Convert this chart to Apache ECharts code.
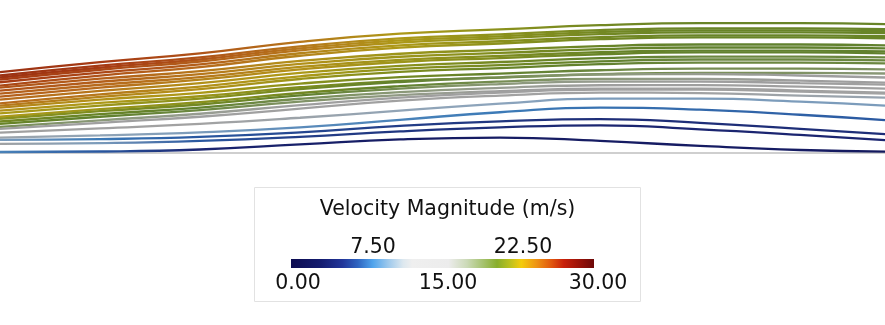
<!DOCTYPE html>
<html>
<head>
<meta charset="utf-8">
<script src="https://cdn.jsdelivr.net/npm/echarts@6/dist/echarts.min.js"></script>
<style>html,body{margin:0;padding:0;background:#fff}#c{width:885px;height:325px}</style>
</head>
<body>
<div id="c"></div>
<script>
// Streamline sample positions along the channel (x)
const xs = [0, 100, 200, 300, 400, 500, 600, 700, 800, 885];
// Height of each streamline above the wall at each x
const line01 = [80.3, 90.3, 98.9, 110.4, 118.5, 122.8, 127.0, 129.0, 129.0, 128.0];
const line02 = [77, 86.7, 94.9, 106, 113.8, 117.9, 122.1, 123.9, 123.9, 123];
const line03 = [75, 84.7, 92.9, 104, 111.8, 115.9, 120.1, 121.9, 121.9, 121];
const line04 = [73, 82.7, 90.9, 102, 109.8, 113.9, 118.1, 119.9, 119.9, 119];
const line05 = [70.3, 79.9, 88.1, 99.1, 106.9, 111, 115.1, 116.9, 116.9, 116];
const line06 = [67, 76.9, 85.3, 96.6, 104.6, 108.8, 113.1, 114.9, 114.9, 114];
const line07 = [65, 73.8, 81.4, 91.5, 98.6, 102.4, 106.2, 107.8, 107.8, 107];
const line08 = [62, 70.8, 78.4, 88.5, 95.6, 99.4, 103.2, 104.8, 104.8, 104];
const line09 = [59, 67.8, 75.4, 85.5, 92.6, 96.4, 100.2, 101.8, 101.8, 101];
const line10 = [56, 65, 72.8, 83.1, 90.4, 94.3, 98.1, 99.9, 99.9, 99];
const line11 = [53, 61.8, 69.4, 79.5, 86.6, 90.4, 94.2, 95.8, 95.8, 95];
const line12 = [49.3, 58.3, 66, 76.2, 83.5, 87.3, 91.1, 92.9, 92.9, 92];
const line13 = [47, 55.8, 63.4, 73.5, 80.6, 84.4, 88.2, 89.8, 89.8, 89];
const line14 = [45, 53, 59.8, 68.9, 75.4, 78.8, 82.2, 83.8, 83.8, 83];
const line15 = [42, 49.8, 56.4, 65.3, 71.6, 74.9, 78.3, 79.7, 79.7, 79];
const line16 = [39.3, 47.1, 54.1, 63.5, 70.5, 75.2, 78, 78.5, 77, 75];
const line17 = [36, 43.6, 50.4, 59.6, 66.4, 71, 73.5, 73.5, 72, 70];
const line18 = [34, 41.5, 48.2, 57.2, 64, 68.5, 71, 71, 69.5, 68];
const line19 = [31.3, 38.6, 45.1, 53.9, 60.5, 64.7, 67.3, 67.5, 66, 64];
const line20 = [29, 36, 42.5, 51, 57.5, 61.5, 64, 64, 62, 60];
const line21 = [26, 32.5, 39, 47.5, 55, 60, 63, 63, 61, 59];
const line22 = [24, 30, 36, 44, 52, 57, 60, 59.5, 57, 55];
const line23 = [20.3, 24.5, 29, 35, 42, 49, 54, 54, 51, 47];
const line24 = [15.3, 17.5, 20.5, 25.5, 33, 40.5, 45, 43, 38, 32.7];
const line25 = [13, 13.8, 16, 20.5, 27, 31.5, 33.7, 30, 24, 18.7];
const line26 = [9, 9.8, 12, 16, 21.5, 25.5, 27.5, 23.5, 18, 12.7];
const line27 = [1, 1.5, 3.5, 8.5, 13.5, 15.3, 12, 7, 3, 1.3];
const heights = [line01, line02, line03, line04, line05, line06, line07, line08, line09,
  line10, line11, line12, line13, line14, line15, line16, line17, line18, line19,
  line20, line21, line22, line23, line24, line25, line26, line27];

// Velocity magnitude (m/s) along each streamline at the same x positions
const speed01 = [27.5, 27, 26, 24.5, 23, 22, 21, 20.5, 20.5, 20.5];
const speed02 = [27.5, 27, 26, 24.5, 23, 22, 21, 20.5, 20.5, 20.5];
const speed03 = [27.5, 27, 26, 24.5, 23, 22, 21, 20.5, 20.5, 20.5];
const speed04 = [27, 26.5, 25.5, 24.5, 23, 22, 21, 20.5, 20.5, 20.5];
const speed05 = [27, 26.5, 25.5, 24, 23, 22, 21, 20.5, 20.5, 20.5];
const speed06 = [26.5, 26, 25, 24, 23, 22, 21, 20.5, 20.5, 20.5];
const speed07 = [26, 25.5, 24.5, 23.5, 22.5, 21.5, 20.5, 20, 20, 20];
const speed08 = [26, 25.5, 24.5, 23.5, 22.5, 21.5, 20.5, 20, 20, 20];
const speed09 = [25.5, 25, 24.5, 23.5, 22.5, 21.5, 20.5, 20, 20, 20];
const speed10 = [25.5, 25, 24, 23.5, 22.5, 21.5, 20.5, 20, 20, 20];
const speed11 = [25, 24.5, 23.5, 23, 22, 21, 20, 19.5, 19.5, 19.5];
const speed12 = [25, 24.5, 23.5, 23, 22, 21, 20, 19.5, 19.5, 19.5];
const speed13 = [24.5, 24, 23.5, 22.5, 21.5, 20.5, 20, 19.5, 19.5, 19.5];
const speed14 = [24, 23.5, 23, 22, 21, 20, 19.5, 19, 19, 18.5];
const speed15 = [23.5, 23, 22.5, 21.5, 20.5, 20, 19.5, 19, 18.5, 18];
const speed16 = [23, 22.5, 22, 21, 20, 19, 18, 17, 16.5, 16];
const speed17 = [23, 22.5, 22, 21, 20, 19, 18, 17, 16.5, 16];
const speed18 = [22, 21.5, 21, 20, 19, 18, 17, 16.5, 16, 15.5];
const speed19 = [21, 20.5, 20, 19, 18, 17, 16, 15.5, 15, 15];
const speed20 = [20.5, 20, 19.5, 18.5, 17.5, 16.5, 15.5, 15, 15, 14.5];
const speed21 = [19, 18, 17, 16, 15.5, 15, 14.5, 14, 13.5, 13];
const speed22 = [16, 15.5, 15, 14.5, 14, 13.5, 13, 12.5, 12, 11.5];
const speed23 = [14.5, 14, 13, 12, 11, 10.5, 10, 10, 10, 10];
const speed24 = [12, 11, 10, 9, 8.5, 8, 7.5, 7, 6.5, 6];
const speed25 = [10, 8, 6, 5, 4.5, 4, 3.5, 3.5, 3.5, 3.5];
const speed26 = [13, 10, 6, 4.5, 4, 3.5, 3, 3, 3, 3];
const speed27 = [8.5, 6, 3, 2.5, 2, 2, 2, 2, 2, 1.5];
const speeds = [speed01, speed02, speed03, speed04, speed05, speed06, speed07, speed08, speed09,
  speed10, speed11, speed12, speed13, speed14, speed15, speed16, speed17, speed18, speed19,
  speed20, speed21, speed22, speed23, speed24, speed25, speed26, speed27];

// Colour bar range and tick labels
const vMin = 0, vMax = 30;
const barTicksBottom = [0, 15, 30];
const barTicksTop = [7.5, 22.5];
const barTitle = 'Velocity Magnitude (m/s)';

// Colour map (legend bar) and its shaded version used for the streamline tubes
const mapStops = [
  [0.00, '#0c0c50'], [0.10, '#141c70'], [0.17, '#22369a'], [0.22, '#2e64c0'],
  [0.27, '#50a4ec'], [0.32, '#9cc8ec'], [0.37, '#dde8ef'], [0.40, '#efefef'],
  [0.52, '#ececec'], [0.58, '#ccdab8'], [0.63, '#a8c474'], [0.68, '#88ae2c'],
  [0.72, '#b8c020'], [0.76, '#f4cc0c'], [0.81, '#ee9414'], [0.86, '#e0560e'],
  [0.90, '#c8200a'], [0.95, '#9c1208'], [1.00, '#6c0808']
];
const tubeStops = [
  [0.00, '#0b0b4a'], [0.10, '#1b2570'], [0.20, '#2a58a0'], [0.27, '#3d7cb8'],
  [0.35, '#8ca4bc'], [0.42, '#a2a2a2'], [0.55, '#9e9e9e'], [0.60, '#8a9878'],
  [0.67, '#5f802a'], [0.73, '#87901c'], [0.77, '#b09a18'], [0.83, '#b86c1c'],
  [0.90, '#a63a14'], [1.00, '#640c0c']
];

function colorAt(stops, v) {
  const t = Math.max(0, Math.min(1, (v - vMin) / (vMax - vMin)));
  for (let i = 1; i < stops.length; i++) {
    if (t <= stops[i][0]) {
      const a = stops[i - 1], b = stops[i];
      const u = (t - a[0]) / (b[0] - a[0] || 1);
      return echarts.color.lerp(u, [a[1], b[1]]);
    }
  }
  return stops[stops.length - 1][1];
}

const chart = echarts.init(document.getElementById('c'), null, {renderer: 'canvas'});
const FONT = 'DejaVu Sans';
const x0 = xs[0], x1 = xs[xs.length - 1];

const series = heights.map((h, i) => ({
  type: 'line',
  xAxisIndex: 0, yAxisIndex: 0,
  data: xs.map((x, j) => [x, h[j]]),
  showSymbol: false,
  smooth: 0.5,
  silent: true,
  lineStyle: {
    width: 2.3,
    color: new echarts.graphic.LinearGradient(0, 0, 1, 0,
      xs.map((x, j) => ({offset: (x - x0) / (x1 - x0), color: colorAt(tubeStops, speeds[i][j])})))
  },
  z: 2
}));

// Colour bar drawn from the value range on the legend axis
series.push({
  type: 'custom',
  xAxisIndex: 1, yAxisIndex: 1,
  silent: true,
  data: [[vMin, vMax]],
  renderItem: function (params, api) {
    const p0 = api.coord([api.value(0), 0]);
    const p1 = api.coord([api.value(1), 1]);
    return {
      type: 'rect',
      shape: {x: p0[0], y: p1[1], width: p1[0] - p0[0], height: p0[1] - p1[1]},
      style: {fill: new echarts.graphic.LinearGradient(0, 0, 1, 0,
        mapStops.map(s => ({offset: s[0], color: s[1]})))}
    };
  }
});

const labelStyle = {fontFamily: FONT, fontSize: 20.5, color: '#111'};

chart.setOption({
  animation: false,
  backgroundColor: '#ffffff',
  grid: [
    {left: 0, right: 0, top: 0, bottom: 172, containLabel: false},
    {left: 291, width: 303, top: 259, height: 9, containLabel: false},
    {left: 298, width: 300, top: 259, height: 9, containLabel: false}
  ],
  xAxis: [
    {gridIndex: 0, type: 'value', min: x0, max: x1,
      axisLine: {show: true, lineStyle: {color: '#cfcfcf', width: 2}},
      axisTick: {show: false}, axisLabel: {show: false}, splitLine: {show: false}},
    {gridIndex: 1, type: 'value', min: vMin, max: vMax, show: false},
    {gridIndex: 2, type: 'value', min: vMin, max: vMax, interval: 15, position: 'bottom',
      axisLine: {show: false}, axisTick: {show: false}, splitLine: {show: false},
      axisLabel: Object.assign({margin: 5,
        formatter: v => barTicksBottom.indexOf(v) >= 0 ? v.toFixed(2) : ''}, labelStyle)},
    {gridIndex: 2, type: 'value', min: vMin, max: vMax, interval: 7.5, position: 'top',
      axisLine: {show: false}, axisTick: {show: false}, splitLine: {show: false},
      axisLabel: Object.assign({margin: 1,
        formatter: v => barTicksTop.indexOf(v) >= 0 ? v.toFixed(2) : ''}, labelStyle)}
  ],
  yAxis: [
    {gridIndex: 0, type: 'value', min: 0, max: 152, show: false},
    {gridIndex: 1, type: 'value', min: 0, max: 1, show: false},
    {gridIndex: 2, type: 'value', min: 0, max: 1, show: false}
  ],
  graphic: [
    {type: 'rect', shape: {x: 254.5, y: 187.5, width: 386, height: 114},
      style: {fill: '#fff', stroke: '#e2e2e2', lineWidth: 1}, z: 0, silent: true},
    {type: 'text', x: 447.5, y: 210, z: 5, silent: true,
      style: {text: barTitle, fontFamily: FONT, fontSize: 20.5, fill: '#111',
        textAlign: 'center', textVerticalAlign: 'middle'}}
  ],
  series: series
});
</script>
</body>
</html>
